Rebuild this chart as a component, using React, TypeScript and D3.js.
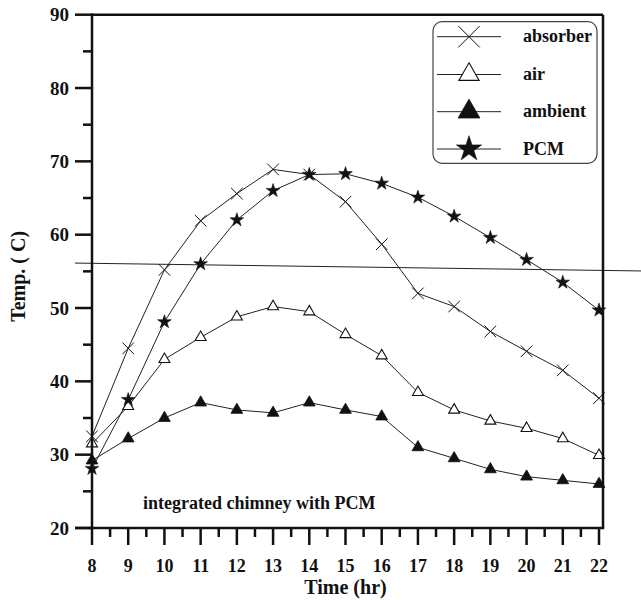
import React from "react";
import * as d3 from "d3";

const hours = [8, 9, 10, 11, 12, 13, 14, 15, 16, 17, 18, 19, 20, 21, 22];
const absorber = [32.5, 44.5, 55.2, 61.9, 65.6, 68.9, 68.2, 64.5, 58.7, 52.0, 50.2, 46.8, 44.1, 41.5, 37.7];
const air = [31.5, 36.6, 43.0, 46.0, 48.8, 50.2, 49.5, 46.4, 43.5, 38.5, 36.1, 34.6, 33.6, 32.2, 29.9];
const ambient = [29.2, 32.2, 35.0, 37.1, 36.1, 35.7, 37.1, 36.1, 35.2, 31.0, 29.5, 28.0, 27.0, 26.5, 26.0];
const pcm = [28.1, 37.5, 48.1, 56.0, 62.0, 66.0, 68.2, 68.3, 67.0, 65.1, 62.5, 59.6, 56.6, 53.5, 49.7];

const yTicks = [20, 30, 40, 50, 60, 70, 80, 90];
const yMinorTicks = [25, 35, 45, 55, 65, 75, 85];
const xMinorTicks = [8.5, 9.5, 10.5, 11.5, 12.5, 13.5, 14.5, 15.5, 16.5, 17.5, 18.5, 19.5, 20.5, 21.5];

const refLineX = [7.53, 23.2];
const refLineY = [56.13, 55.05];

const seriesNames = ["absorber", "air", "ambient", "PCM"];
const annotation = "integrated chimney with PCM";
const xTitle = "Time (hr)";
const yTitle = "Temp. ( C)";

const FONT = "'Liberation Serif', 'Times New Roman', serif";

function Marker({ kind, x, y, big }: { kind: string; x: number; y: number; big?: boolean }) {
  const k = big ? 1.85 : 1;
  if (kind === "absorber") {
    const r = 5.8 * k;
    return (
      <g stroke="#111" strokeWidth={1}>
        <line x1={x - r} y1={y - r} x2={x + r} y2={y + r} />
        <line x1={x - r} y1={y + r} x2={x + r} y2={y - r} />
      </g>
    );
  }
  if (kind === "air") {
    const p = d3.symbol().type(d3.symbolTriangle).size(52 * k * k)();
    return <path d={p || ""} transform={`translate(${x},${y})`} fill="#fff" stroke="#111" strokeWidth={1.1} />;
  }
  if (kind === "ambient") {
    const p = d3.symbol().type(d3.symbolTriangle).size(60 * k * k)();
    return <path d={p || ""} transform={`translate(${x},${y})`} fill="#111" stroke="#111" strokeWidth={0.8} />;
  }
  const p = d3.symbol().type(d3.symbolStar).size(58 * k * k)();
  return <path d={p || ""} transform={`translate(${x},${y})`} fill="#111" stroke="#111" strokeWidth={0.6} />;
}

export default function App() {
  const x = d3.scaleLinear().domain([8, 22]).range([92, 599]);
  const y = d3.scaleLinear().domain([20, 90]).range([528, 14.7]);
  const left = 92, right = 603, top = y(90), bottom = y(20);

  const line = d3
    .line<number>()
    .x((_, i) => x(hours[i]))
    .y((d) => y(d));

  const data: [string, number[]][] = [
    ["absorber", absorber],
    ["air", air],
    ["ambient", ambient],
    ["PCM", pcm],
  ];

  const refLine = d3
    .line<number>()
    .x((d) => x(d))
    .y((_, i) => y(refLineY[i]));

  const legX = 433, legY = 21.7, legW = 164, legH = 141.6;
  const rowY = [36.7, 74.5, 111.7, 149];

  return (
    <svg width={641} height={600} style={{ position: "absolute", left: 0, top: 0, background: "#fff" }} fontFamily={FONT}>
      <rect x={0} y={0} width={641} height={600} fill="#fff" />
      {data.map(([name, vals]) => (
        <path key={name} d={line(vals) || ""} fill="none" stroke="#222" strokeWidth={1} />
      ))}
      <path d={refLine(refLineX) || ""} fill="none" stroke="#222" strokeWidth={1} />
      {data.map(([name, vals]) => (
        <g key={name + "m"}>
          {vals.map((v, i) => (
            <Marker key={i} kind={name} x={x(hours[i])} y={y(v)} />
          ))}
        </g>
      ))}
      <line x1={left} y1={top} x2={right} y2={top} stroke="#111" strokeWidth={2.5} />
      <line x1={right} y1={top} x2={right} y2={bottom} stroke="#111" strokeWidth={2.5} />
      <line x1={left} y1={top - 1.2} x2={left} y2={bottom} stroke="#111" strokeWidth={2.5} />
      <line x1={75} y1={bottom} x2={right + 1.2} y2={bottom} stroke="#111" strokeWidth={2.5} />
      {yTicks.map((t) => (
        <g key={"yt" + t}>
          <line x1={75} x2={left} y1={y(t)} y2={y(t)} stroke="#111" strokeWidth={2.5} />
          <text x={69} y={y(t)} dy="0.35em" textAnchor="end" fontSize={19} fontWeight="bold" fill="#111">
            {t}
          </text>
        </g>
      ))}
      {yMinorTicks.map((t) => (
        <line key={"ym" + t} x1={83} x2={left} y1={y(t)} y2={y(t)} stroke="#111" strokeWidth={2.5} />
      ))}
      {hours.map((h) => (
        <g key={"xt" + h}>
          <line x1={x(h)} x2={x(h)} y1={bottom} y2={bottom + 17} stroke="#111" strokeWidth={2.5} />
          <text x={x(h)} y={bottom + 44} textAnchor="middle" fontSize={18} fontWeight="bold" fill="#111">
            {h}
          </text>
        </g>
      ))}
      {xMinorTicks.map((h) => (
        <line key={"xm" + h} x1={x(h)} x2={x(h)} y1={bottom} y2={bottom + 9} stroke="#111" strokeWidth={2.5} />
      ))}
      <text x={(left + x(22)) / 2} y={594} textAnchor="middle" fontSize={20} fontWeight="bold" fill="#111">
        {xTitle}
      </text>
      <text
        transform={`translate(25,${(top + bottom) / 2 + 5}) rotate(-90)`}
        textAnchor="middle"
        fontSize={20}
        fontWeight="bold"
        fill="#111"
      >
        {yTitle}
      </text>
      <text x={143} y={509} fontSize={18} fontWeight="bold" fill="#111">
        {annotation}
      </text>
      <rect x={legX} y={legY} width={legW} height={legH} rx={9} ry={9} fill="#fff" stroke="#444" strokeWidth={1.2} />
      {seriesNames.map((n, i) => (
        <g key={"leg" + n}>
          <line x1={437} x2={501} y1={rowY[i]} y2={rowY[i]} stroke="#222" strokeWidth={1} />
          <Marker kind={n} x={469} y={rowY[i]} big />
          <text x={523} y={rowY[i]} dy="0.32em" fontSize={18} fontWeight="bold" fill="#111">
            {n}
          </text>
        </g>
      ))}
    </svg>
  );
}
